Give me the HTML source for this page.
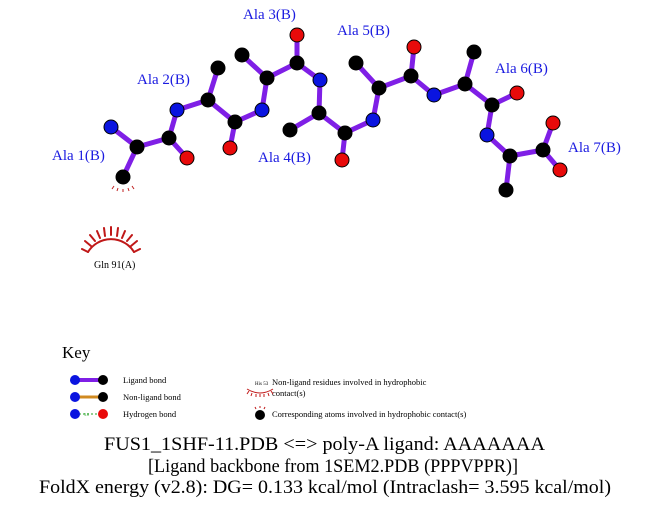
<!DOCTYPE html>
<html><head><meta charset="utf-8"><style>
html,body{margin:0;padding:0;background:#fff;}
svg{display:block;}
text{font-family:"Liberation Serif",serif;}
</style></head><body>
<svg width="651" height="511" viewBox="0 0 651 511" xmlns="http://www.w3.org/2000/svg">
<g stroke="#7f1fe6" stroke-width="5" stroke-linecap="round">
<path d="M111,127 L137,147 L123,177 M137,147 L169,138 L187,158 M169,138 L177,110 L208,100 L218,68 M208,100 L235,122 L230,148 M235,122 L262,110 L267,78 L242,55 M267,78 L297,63 L297,35 M297,63 L320,80 L319,113 L290,130 M319,113 L345,133 L342,160 M345,133 L373,120 L379,88 L356,63 M379,88 L411,76 L414,47 M411,76 L434,95 L465,84 L474,52 M465,84 L492,105 L517,93 M492,105 L487,135 L510,156 L506,190 M510,156 L543,150 L553,123 M543,150 L560,170" fill="none"/>
</g>
<g stroke="#000" stroke-width="1">
<g fill="#000">
<circle cx="137" cy="147" r="7"/><circle cx="123" cy="177" r="7"/><circle cx="169" cy="138" r="7"/>
<circle cx="208" cy="100" r="7"/><circle cx="218" cy="68" r="7"/><circle cx="235" cy="122" r="7"/>
<circle cx="267" cy="78" r="7"/><circle cx="242" cy="55" r="7"/><circle cx="297" cy="63" r="7"/>
<circle cx="319" cy="113" r="7"/><circle cx="290" cy="130" r="7"/><circle cx="345" cy="133" r="7"/>
<circle cx="379" cy="88" r="7"/><circle cx="356" cy="63" r="7"/><circle cx="411" cy="76" r="7"/>
<circle cx="465" cy="84" r="7"/><circle cx="474" cy="52" r="7"/><circle cx="492" cy="105" r="7"/>
<circle cx="510" cy="156" r="7"/><circle cx="506" cy="190" r="7"/><circle cx="543" cy="150" r="7"/>
</g>
<g fill="#0a14e0">
<circle cx="111" cy="127" r="7"/><circle cx="177" cy="110" r="7"/><circle cx="262" cy="110" r="7"/>
<circle cx="320" cy="80" r="7"/><circle cx="373" cy="120" r="7"/><circle cx="434" cy="95" r="7"/><circle cx="487" cy="135" r="7"/>
</g>
<g fill="#e80a0a">
<circle cx="187" cy="158" r="7"/><circle cx="230" cy="148" r="7"/><circle cx="297" cy="35" r="7"/>
<circle cx="342" cy="160" r="7"/><circle cx="414" cy="47" r="7"/><circle cx="517" cy="93" r="7"/>
<circle cx="553" cy="123" r="7"/><circle cx="560" cy="170" r="7"/>
</g>
</g>
<g stroke="#c02020" stroke-width="1">
<path d="M114,186 l-2,3 M118,188 l-1,3 M123,189 l0,3 M128,188 l1,3 M132,186 l2,3"/>
</g>
<g fill="#1a1ae0" font-size="15">
<text x="52" y="160">Ala 1(B)</text>
<text x="137" y="84">Ala 2(B)</text>
<text x="243" y="19">Ala 3(B)</text>
<text x="258" y="162">Ala 4(B)</text>
<text x="337" y="35">Ala 5(B)</text>
<text x="495" y="73">Ala 6(B)</text>
<text x="568" y="152">Ala 7(B)</text>
</g>
<!-- Gln arc -->
<g stroke="#c01818" stroke-width="2" fill="none" stroke-linecap="round">
<path d="M88,252 A27,27 0 0 1 134,252"/>
<path d="M88,252 l-6,-3 M91,246 l-6,-5 M95,241 l-5,-6 M100,238 l-3,-7 M105,236 l-1,-8 M111,235 l0,-8 M117,236 l1,-8 M122,238 l3,-7 M127,241 l5,-6 M131,246 l6,-5 M134,252 l6,-3"/>
</g>
<text x="94" y="268" font-size="10">Gln 91(A)</text>
<!-- Key -->
<text x="62" y="358" font-size="17">Key</text>
<line x1="75" y1="380" x2="103" y2="380" stroke="#7f1fe6" stroke-width="4"/>
<circle cx="75" cy="380" r="5" fill="#0a14e0"/><circle cx="103" cy="380" r="5" fill="#000"/>
<line x1="75" y1="397" x2="103" y2="397" stroke="#d08a20" stroke-width="3"/>
<circle cx="75" cy="397" r="5" fill="#0a14e0"/><circle cx="103" cy="397" r="5" fill="#000"/>
<line x1="75" y1="414" x2="103" y2="414" stroke="#20a020" stroke-width="1" stroke-dasharray="2,2"/>
<text x="84" y="416" font-size="4" fill="#20a020">3.0</text>
<circle cx="75" cy="414" r="5" fill="#0a14e0"/><circle cx="103" cy="414" r="5" fill="#e80a0a"/>
<g font-size="8.5">
<text x="123" y="383">Ligand bond</text>
<text x="123" y="400">Non-ligand bond</text>
<text x="123" y="417">Hydrogen bond</text>
<text x="272" y="385">Non-ligand residues involved in hydrophobic</text>
<text x="272" y="396">contact(s)</text>
<text x="272" y="417">Corresponding atoms involved in hydrophobic contact(s)</text>
</g>
<text x="255" y="385" font-size="5">His 53</text>
<g stroke="#c01818" stroke-width="1" fill="none">
<path d="M247,389 Q260,397 273,389"/>
<path d="M249,391 l-2,3 M252,393 l-1,3 M256,394 l0,3 M260,394 l0,3 M264,394 l0,3 M268,393 l1,3 M271,391 l2,3"/>
<path d="M256,409 l-1,-2 M260,408 l0,-2 M264,409 l1,-2"/>
</g>
<circle cx="260" cy="415" r="5" fill="#000"/>
<g font-size="19">
<text x="104" y="450" textLength="441" lengthAdjust="spacingAndGlyphs">FUS1_1SHF-11.PDB &lt;=&gt; poly-A ligand: AAAAAAA</text>
<text x="148" y="472" textLength="370" lengthAdjust="spacingAndGlyphs">[Ligand backbone from 1SEM2.PDB (PPPVPPR)]</text>
<text x="39" y="493" textLength="572" lengthAdjust="spacingAndGlyphs">FoldX energy (v2.8): DG= 0.133 kcal/mol (Intraclash= 3.595 kcal/mol)</text>
</g>
</svg>
</body></html>
